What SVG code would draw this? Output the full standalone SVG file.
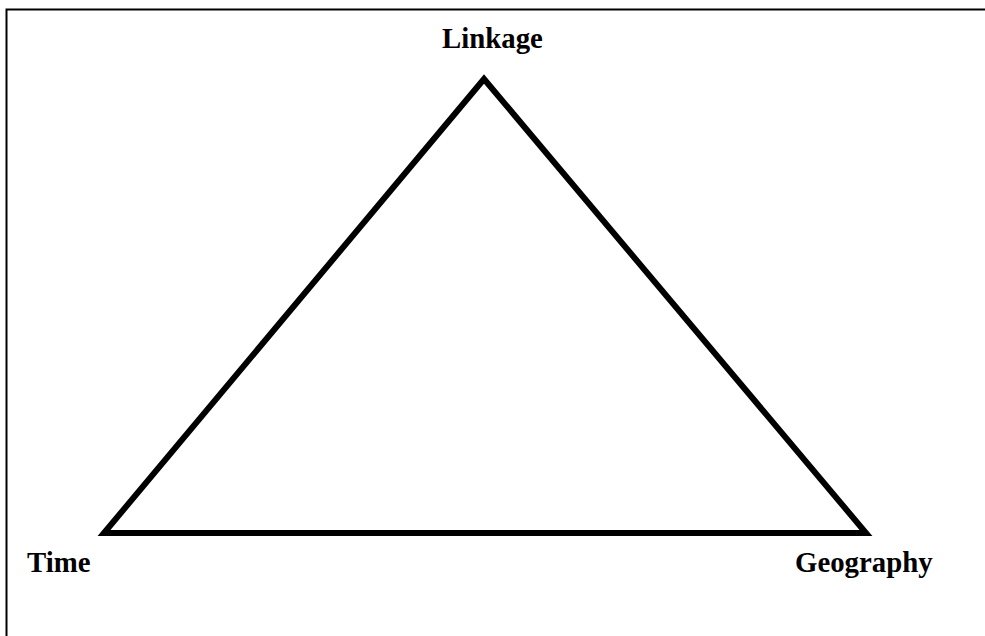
<svg xmlns="http://www.w3.org/2000/svg" width="985" height="636" viewBox="0 0 985 636">
<style>
.lbl{font-family:"Liberation Serif","Times New Roman",serif;font-weight:bold;font-size:28.8px;fill:#000}
</style>
<rect x="0" y="0" width="985" height="636" fill="#fff"/>
<rect x="6.5" y="9.5" width="1000" height="700" fill="none" stroke="#000" stroke-width="2"/>
<g id="connectors">
<polygon points="104,533 484,79 866,533" fill="none" stroke="#000" stroke-width="6" stroke-miterlimit="10"/>
</g>
<g id="linkage"><text class="lbl" x="442" y="48">Linkage</text></g>
<g id="time"><text class="lbl" x="27" y="572">Time</text></g>
<g id="geography"><text class="lbl" x="795" y="572">Geography</text></g>
</svg>
